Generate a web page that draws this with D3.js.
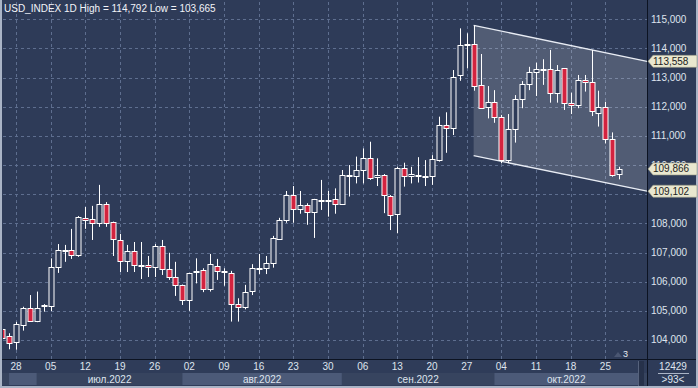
<!DOCTYPE html>
<html>
<head>
<meta charset="utf-8">
<script src="https://cdn.jsdelivr.net/npm/d3@7"></script>
<style>
  body { margin: 0; background: #aab4c6; }
  svg { display: block; font-family: "Liberation Sans", Arial, sans-serif; }
</style>
</head>
<body>
<svg id="chart" width="698" height="388"></svg>
<script>
// daily OHLC, USD index, 24 Jun 2022 .. 27 Oct 2022 (weekdays)
var open  = [104.37,104.14,103.92,104.52,105.09,104.66,105.17,105.14,106.49,107.05,107.09,106.90,108.20,108.14,108.01,108.66,108.03,107.43,106.71,107.05,106.56,106.56,106.50,107.22,106.44,106.15,105.88,105.35,106.34,106.40,105.74,106.55,106.36,106.29,105.22,105.12,105.68,106.45,106.45,106.63,107.47,108.10,108.97,108.50,108.63,108.40,108.81,108.76,108.83,108.65,109.64,109.64,109.81,110.23,109.57,109.65,108.95,108.31,109.89,109.60,109.66,109.60,109.60,110.17,111.37,111.26,113.09,114.10,114.15,112.75,111.98,112.15,111.64,110.15,111.23,112.26,112.77,113.18,113.28,113.28,112.46,113.32,112.12,112.05,112.92,112.84,111.78,111.98,110.89,109.68];
var high  = [104.48,104.23,104.62,105.14,105.54,105.66,105.23,106.80,107.29,107.26,107.81,108.25,108.56,108.60,109.32,108.73,108.06,107.64,107.26,107.36,107.36,106.88,107.29,107.43,106.99,106.68,105.90,106.30,106.80,106.46,106.95,106.78,106.46,106.37,105.43,105.89,106.60,106.95,106.88,107.57,108.19,109.11,109.28,109.11,108.69,108.84,109.49,109.11,109.20,109.83,110.00,110.29,110.57,110.80,110.23,109.69,108.97,109.94,110.08,109.94,110.27,110.17,110.34,111.66,111.81,113.26,114.69,114.52,114.792,113.81,112.71,112.57,111.72,111.75,112.40,112.88,113.37,113.51,113.63,113.95,113.43,113.32,112.48,113.09,113.09,113.95,112.55,112.17,111.12,109.94];
var low   = [104.00,103.68,103.665,104.32,104.63,104.61,104.97,104.99,106.30,106.68,106.78,106.85,107.81,107.43,107.88,107.88,106.88,106.33,106.33,106.33,106.09,106.16,106.16,106.23,106.06,105.51,105.20,105.00,105.94,105.64,105.66,106.06,105.86,104.63,104.63,105.05,105.54,106.26,106.26,106.48,107.44,108.02,108.02,108.33,107.95,107.50,108.46,108.23,108.33,108.65,108.92,109.37,109.37,109.49,109.28,108.35,107.77,107.66,109.26,109.37,109.40,109.28,109.32,110.12,110.42,111.03,112.89,113.32,112.55,111.97,111.60,111.45,110.06,110.06,110.77,111.95,112.57,112.37,112.75,112.14,112.14,111.89,111.75,111.95,112.52,111.68,111.32,110.74,109.60,109.51];
var close = [104.06,103.91,104.54,105.09,104.66,105.09,105.20,106.49,107.09,107.08,106.92,108.22,108.14,108.01,108.66,108.01,107.43,106.71,107.05,106.57,106.54,106.50,107.22,106.44,106.16,105.88,105.35,106.29,106.37,105.74,106.60,106.37,106.34,105.22,105.12,105.64,106.48,106.48,106.63,107.49,108.12,108.97,108.50,108.63,108.40,108.84,108.76,108.81,108.65,109.66,109.66,109.83,110.23,109.55,109.65,108.95,108.31,109.89,109.60,109.68,109.66,109.63,110.20,111.37,111.26,113.01,114.12,114.14,112.72,111.97,112.15,111.62,110.15,111.23,112.26,112.77,113.18,113.28,113.28,112.46,113.26,112.12,112.05,112.92,112.84,111.85,111.98,110.89,109.66,109.866];

var weekTicks  = ["2022-06-28","2022-07-05","2022-07-12","2022-07-19","2022-07-26","2022-08-02","2022-08-09","2022-08-16","2022-08-23","2022-08-30","2022-09-06","2022-09-13","2022-09-20","2022-09-27","2022-10-04","2022-10-11","2022-10-18","2022-10-25"];
var weekLabels = ["28","05","12","19","26","02","09","16","23","30","06","13","20","27","04","11","18","25"];
var monthStarts = ["2022-06-27","2022-07-01","2022-08-01","2022-09-01","2022-10-03"];
var monthLabels = ["", "июл.2022", "авг.2022", "сен.2022", "окт.2022"];
var priceTicks = [104, 105, 106, 107, 108, 109, 110, 111, 112, 113, 114, 115];
// 109,000 sits under the 109,102 tag in the original, so its label is not shown
var priceLabels = [104, 105, 106, 107, 108, 110, 111, 112, 113, 114, 115];

// trend channel drawn from 28 Sep to the right edge
var channelStart = "2022-09-28";
var channelUpper = [114.792, 113.558];
var channelLower = [110.32, 109.102];
var lastPrice = 109.866;

var W = 698, H = 388;
var L = 3, R = 647, T = 2, B = 359;
var bg = "#2e3b58";

var fmtDay = d3.timeFormat("%Y-%m-%d");
var dates = d3.timeDay.range(new Date(2022, 5, 24), new Date(2022, 9, 28))
  .filter(function (d) { return d.getDay() % 6 !== 0; })
  .map(fmtDay);
function idx(s) { return dates.indexOf(s); }

var x = d3.scaleLinear().domain([0.125, 93]).range([L, R]);
var y = d3.scaleLinear().domain([104, 115]).range([339.95, 19.3]);
var fmt = d3.formatLocale({ decimal: ",", thousands: " ", grouping: [3], currency: ["", ""] }).format(".3f");

var svg = d3.select("#chart");

// frame + backgrounds
svg.append("rect").attr("width", W).attr("height", H).attr("fill", "#aab4c6");
svg.append("rect").attr("x", 2).attr("y", 0).attr("width", 694).attr("height", 386).attr("fill", bg);

// bottom strip
svg.append("rect").attr("x", 2).attr("y", 360).attr("width", 645).attr("height", 26).attr("fill", "#2f3c59");
svg.append("rect").attr("x", 2).attr("y", 373).attr("width", 645).attr("height", 12).attr("fill", "#37445f");

var bands = monthStarts.map(function (m, i) {
  var a = i === 0 ? x(1) : x(idx(m));
  var b = i < monthStarts.length - 1 ? x(idx(monthStarts[i + 1])) : 638;
  return { a: a, b: b, label: monthLabels[i], light: i % 2 === 0 };
});
svg.selectAll(".band").data(bands).enter().append("rect")
  .attr("x", function (d) { return d.a; })
  .attr("y", 373).attr("width", function (d) { return d.b - d.a; }).attr("height", 12)
  .attr("fill", function (d) { return d.light ? "#4c5a78" : "#37445f"; });
svg.selectAll(".mlab").data(bands).enter().append("text")
  .attr("x", function (d) { return (d.a + d.b) / 2; }).attr("y", 383)
  .attr("text-anchor", "middle").attr("font-size", "10px").attr("fill", "#dfe4ee")
  .text(function (d) { return d.label; });

svg.append("rect").attr("x", 638).attr("y", 361).attr("width", 6).attr("height", 25).attr("fill", "#26314a");
svg.append("line").attr("x1", 638.5).attr("x2", 638.5).attr("y1", 361).attr("y2", 386).attr("stroke", "#56627c");

// grid
var grid = svg.append("g").attr("stroke", "#5e6e8f").attr("stroke-dasharray", "3,3").attr("stroke-width", 1);
grid.selectAll(".hg").data(priceTicks).enter().append("line")
  .attr("x1", L).attr("x2", R)
  .attr("y1", function (d) { return Math.round(y(d)) + 0.5; })
  .attr("y2", function (d) { return Math.round(y(d)) + 0.5; });
grid.selectAll(".vg").data(weekTicks).enter().append("line")
  .attr("x1", function (d) { return Math.round(x(idx(d))) + 0.5; })
  .attr("x2", function (d) { return Math.round(x(idx(d))) + 0.5; })
  .attr("y1", T).attr("y2", B);

// channel
var cs = x(idx(channelStart));
svg.append("polygon")
  .attr("points", [[cs, y(channelUpper[0])], [R, y(channelUpper[1])], [R, y(channelLower[1])], [cs, y(channelLower[0])]].join(" "))
  .attr("fill", "#ffffff").attr("fill-opacity", 0.17);
[channelUpper, channelLower].forEach(function (c) {
  svg.append("line").attr("x1", cs).attr("y1", y(c[0])).attr("x2", R).attr("y2", y(c[1]))
    .attr("stroke", "#e8ecf4").attr("stroke-width", 1.3);
});

// candles
var data = dates.map(function (d, i) {
  return { date: d, i: i, o: open[i], h: high[i], l: low[i], c: close[i] };
});
var candles = svg.append("g").attr("clip-path", "url(#clip)");
svg.append("clipPath").attr("id", "clip").append("rect")
  .attr("x", L).attr("y", T).attr("width", R - L).attr("height", B - T);

var cg = candles.selectAll("g").data(data).enter().append("g");
cg.append("line")
  .attr("x1", function (d) { return Math.round(x(d.i)) + 0.5; })
  .attr("x2", function (d) { return Math.round(x(d.i)) + 0.5; })
  .attr("y1", function (d) { return y(d.h); })
  .attr("y2", function (d) { return y(d.l); })
  .attr("stroke", "#ffffff");
cg.append("rect")
  .attr("x", function (d) { return Math.round(x(d.i)) - 2; })
  .attr("width", 5)
  .attr("y", function (d) { return Math.round(y(Math.max(d.o, d.c))) + 0.5; })
  .attr("height", function (d) { return Math.max(1, Math.round(Math.abs(y(d.o) - y(d.c)))); })
  .attr("fill", function (d) { return d.c >= d.o ? bg : "#d3233f"; })
  .attr("stroke", "#ffffff").attr("stroke-width", 1);

// axes separators
svg.append("line").attr("x1", R + 0.5).attr("x2", R + 0.5).attr("y1", 0).attr("y2", 386).attr("stroke", "#0c1322");
svg.append("line").attr("x1", 2).attr("x2", 696).attr("y1", B + 0.5).attr("y2", B + 0.5).attr("stroke", "#0c1322");

// price labels
svg.selectAll(".pl").data(priceLabels).enter().append("text")
  .attr("x", 651).attr("y", function (d) { return y(d); }).attr("dy", "0.35em")
  .attr("font-size", "10px").attr("fill", "#dfe4ee")
  .text(function (d) { return fmt(d); });

// date labels
svg.selectAll(".dl").data(weekTicks).enter().append("text")
  .attr("x", function (d) { return x(idx(d)); }).attr("y", 370)
  .attr("text-anchor", "middle").attr("font-size", "10px").attr("fill", "#dfe4ee")
  .text(function (d, i) { return weekLabels[i]; });

// price tags
var tags = [channelUpper[1], lastPrice, channelLower[1]];
var tg = svg.selectAll(".tag").data(tags).enter().append("g")
  .attr("transform", function (d) { return "translate(648," + y(d) + ")"; });
tg.append("path").attr("d", "M0,0 L5,-6 L49,-6 L49,6 L5,6 Z")
  .attr("fill", "#e9e7cf").attr("stroke", "#9a9a86").attr("stroke-width", 0.6);
tg.append("text").attr("x", 5).attr("dy", "0.35em").attr("font-size", "10px").attr("fill", "#1c1c1c")
  .text(function (d) { return fmt(d); });

// title
svg.append("text").attr("x", 4).attr("y", 12).attr("font-size", "10px").attr("fill", "#f2f4f8")
  .text("USD_INDEX 1D High = " + fmt(d3.max(high)) + " Low = " + fmt(d3.min(low)));

// marker and info box
svg.append("path").attr("d", "M614,357 L618,352 L622,357 Z").attr("fill", "#4a5672");
svg.append("text").attr("x", 623).attr("y", 357).attr("font-size", "9px").attr("fill", "#e8ecf2").text("3");
svg.append("text").attr("x", 673).attr("y", 370).attr("text-anchor", "middle").attr("font-size", "10px").attr("fill", "#dfe4ee").text("12429");
svg.append("line").attr("x1", 658).attr("x2", 689).attr("y1", 373.5).attr("y2", 373.5).attr("stroke", "#aab4c6");
svg.append("text").attr("x", 673).attr("y", 383).attr("text-anchor", "middle").attr("font-size", "10px").attr("fill", "#dfe4ee").text(">93<");
</script>
</body>
</html>
